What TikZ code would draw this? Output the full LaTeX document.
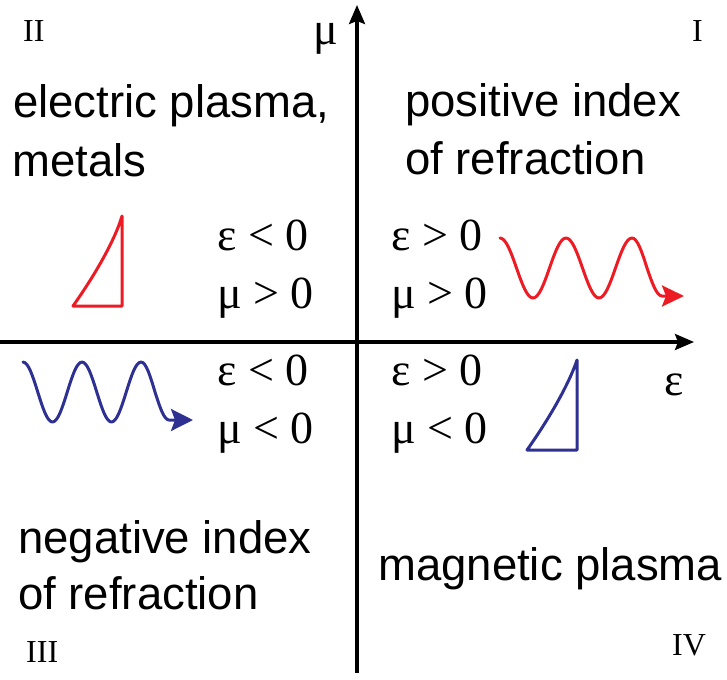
\documentclass[tikz,border=0pt]{standalone}
\usepackage{fontspec}
\setmainfont{Liberation Serif}
\setsansfont{Liberation Sans}
\usepackage{tikz}
\usetikzlibrary{arrows.meta}
\definecolor{WaveRed}{RGB}{237,28,36}
\definecolor{WaveBlue}{RGB}{46,49,146}

\tikzset{
  axis/.style={line width=3.2pt, -{Stealth[length=19pt,width=16pt,inset=3pt]}},
  wave/.style={line width=3pt, line cap=round, line join=round},
  region/.style={anchor=base west, inner sep=0pt, font=\sffamily\fontsize{45.5}{52}\selectfont},
  relation/.style={anchor=base west, inner sep=0pt, font=\fontsize{46}{52}\selectfont},
  quadrant/.style={anchor=base west, inner sep=0pt, font=\fontsize{32}{36}\selectfont}
}

\begin{document}
\begin{tikzpicture}[x=1pt,y=-1pt]
  \useasboundingbox (0,0) rectangle (727,679);

  % Axes
  \coordinate (xstart) at (0,342);
  \coordinate (xend) at (694,342);
  \coordinate (ystart) at (357,673);
  \coordinate (yend) at (357,5);
  \draw[axis] (xstart) -- (xend);
  \draw[axis] (ystart) -- (yend);
  \node[relation] (mulabel) at (313,45) {μ};
  \node[relation] (epslabel) at (664,395) {ε};

  % Quadrant numbers
  \node[quadrant] (qI) at (692,42) {I};
  \node[quadrant] (qII) at (23,42) {II};
  \node[quadrant] (qIII) at (26,662) {III};
  \node[quadrant] (qIV) at (672,655) {IV};

  % Region descriptions
  \node[region] (elec) at (13,118) {electric plasma,};
  \node[region] (metals) at (12,176) {metals};
  \node[region] (posidx) at (405,117) {positive index};
  \node[region] (posref) at (405,174) {of refraction};
  \node[region] (negidx) at (18,553) {negative index};
  \node[region] (negref) at (18,609) {of refraction};
  \node[region] (magn) at (378,580) {magnetic plasma};

  % Signs of epsilon and mu
  \foreach \nm/\x/\y/\rel in {
    epsII/217/250/{ε < 0},
    muII/217/308/{μ > 0},
    epsI/391/250/{ε > 0},
    muI/391/308/{μ > 0},
    epsIII/217/385/{ε < 0},
    muIII/217/443/{μ < 0},
    epsIV/391/385/{ε > 0},
    muIV/391/443/{μ < 0}
  } {
    \node[relation] (\nm) at (\x,\y) {\rel};
  }

  % Propagating waves
  \draw[wave, WaveRed, -{Stealth[length=22pt,width=21pt,inset=4pt]}]
    (500,238) cos (516.5,268) sin (533,298) cos (549.5,268) sin (566,238)
    cos (582.5,268) sin (599,298) cos (615.5,268) sin (632,238)
    cos (647,268) sin (662,296) -- (684,296);
  \draw[wave, WaveBlue, -{Stealth[length=22pt,width=22pt,inset=4pt]}]
    (23,362) cos (37.75,392) sin (52.5,422) cos (67.25,392) sin (82,362)
    cos (96.75,392) sin (111.5,422) cos (126.25,392) sin (141,362)
    cos (155,392) sin (169,420) -- (193,420);

  % Evanescent profiles
  \draw[wave, WaveRed] (73,306) .. controls (95,275) and (115,240) .. (122,216)
    -- (122,306) -- cycle;
  \draw[wave, WaveBlue] (527,450) .. controls (549,419) and (569,384) .. (577,360)
    -- (577,450) -- cycle;
\end{tikzpicture}
\end{document}
